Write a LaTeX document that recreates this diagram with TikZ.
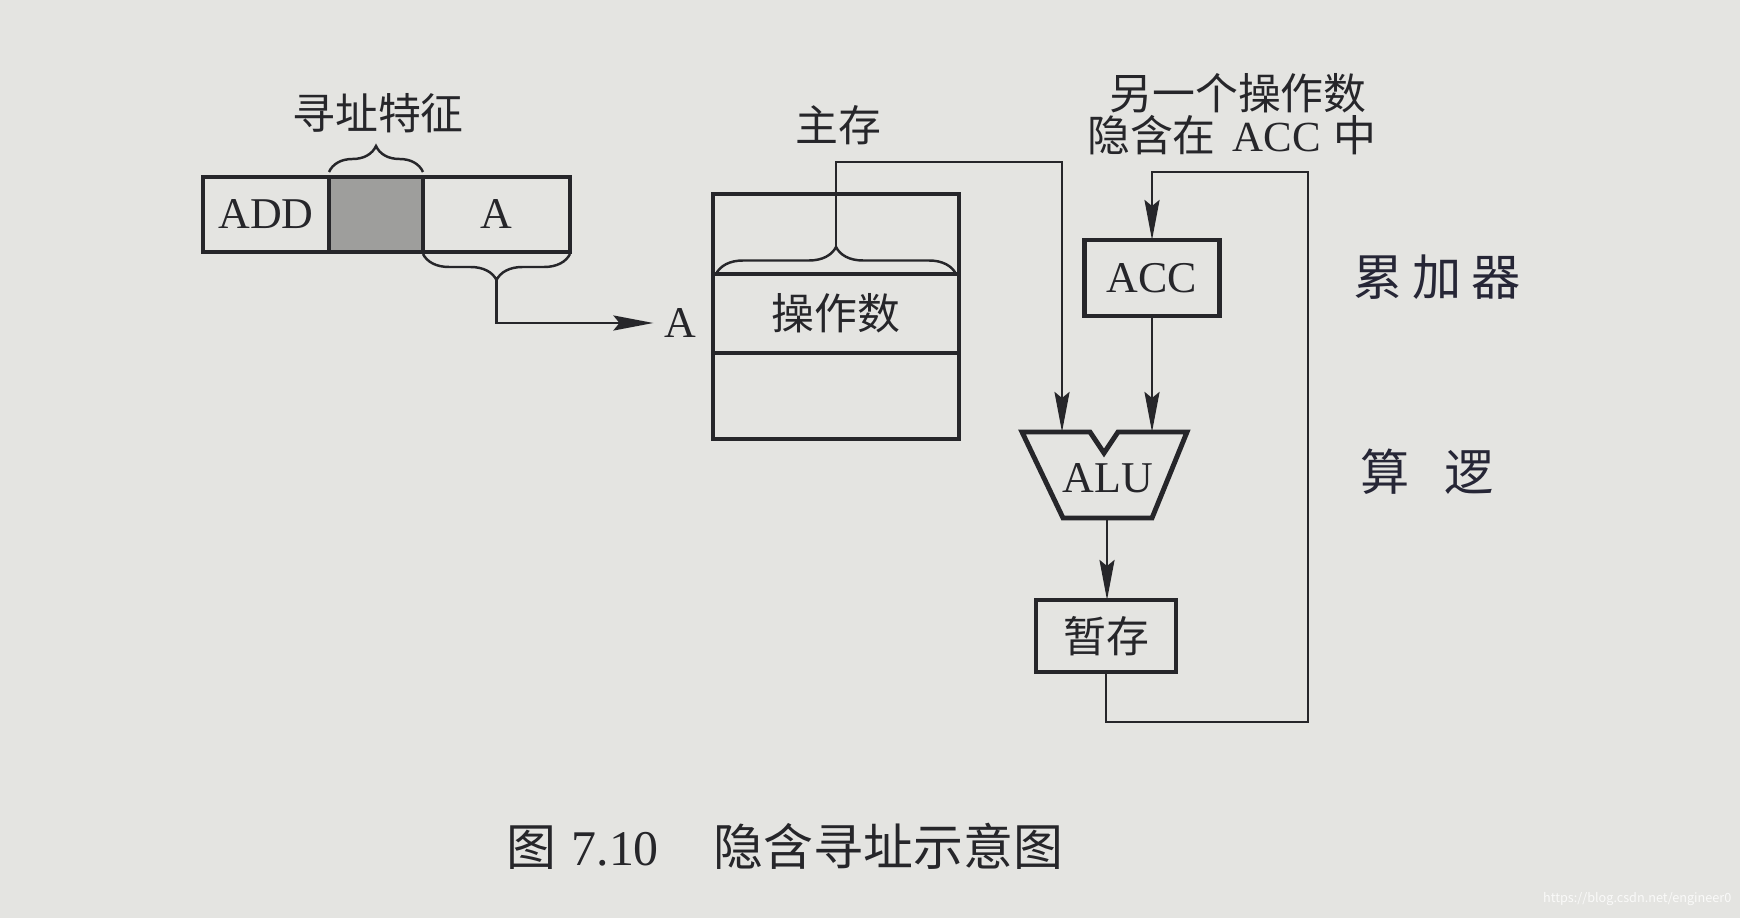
\documentclass[tikz,border=0pt]{standalone}
\usepackage{fontspec}
\setmainfont{Liberation Serif}
\newfontfamily\cjk{Noto Sans CJK SC}
\usepackage{xcolor}
\usepackage{tikz}
\usetikzlibrary{arrows.meta, positioning, decorations.pathreplacing, calc}

\definecolor{paper}{RGB}{228,228,225}
\definecolor{ink}{RGB}{38,38,42}
\definecolor{shade}{RGB}{158,158,156}
\definecolor{pen}{RGB}{38,38,54}

\begin{document}
\begin{tikzpicture}[x=0.1mm, y=-0.1mm,
        every node/.style={text=ink},
        cell/.style={rectangle, draw=ink, line width=1.4pt, outer sep=0pt, inner sep=0pt, minimum height=7.5mm, font=\fontsize{12.5}{14}\selectfont},
        memcell/.style={rectangle, draw=ink, line width=1.4pt, outer sep=0pt, inner sep=0pt, minimum width=24.6mm, font=\fontsize{12.2}{14}\selectfont\cjk},
        regbox/.style={rectangle, draw=ink, line width=1.4pt, outer sep=0pt, inner sep=0pt, font=\fontsize{12.5}{14}\selectfont},
        lbl/.style={inner sep=0pt, font=\fontsize{12.2}{14}\selectfont\cjk},
        hand/.style={inner sep=0pt, text=pen, font=\fontsize{14}{16}\selectfont\cjk},
        conn/.style={draw=ink, line width=0.8pt},
        arrowline/.style={conn, -{Stealth[length=4mm, width=1.5mm, inset=0.6mm]}},
        bracket/.style={draw=ink, line width=0.7pt, decorate, decoration={brace, amplitude=#1}}
    ]
        \path[use as bounding box, fill=paper] (0,0) rectangle (1740,918);

        \node[cell, minimum width=12.6mm] (add) at (266,214.5) {ADD};
        \node[cell, minimum width=9.4mm, fill=shade, right=0pt of add] (mode) {};
        \node[cell, minimum width=14.7mm, right=0pt of mode] (addr) {A};
        \node[lbl] (feature) at (378,113) {寻址特征};
        \draw[bracket=2.6mm] ([yshift=0.5mm]mode.north west) -- ([yshift=0.5mm]mode.north east);
        \draw[bracket=2.6mm] ([yshift=-0.2mm]addr.south east) -- ([yshift=-0.2mm]addr.south west);
        \coordinate (atip) at ([yshift=-2.8mm]addr.south);
        \node[inner sep=1mm, font=\fontsize{12.5}{14}\selectfont] (opaddr) at (680,323) {A};

        \node[memcell, minimum height=8mm] (memtop) at (836,234) {};
        \node[memcell, minimum height=7.9mm, below=0pt of memtop] (operand) {操作数};
        \node[memcell, minimum height=8.6mm, below=0pt of operand] (membot) {};
        \node[lbl] (mainmem) at (838,125) {主存};
        \draw[bracket=2.7mm] ([xshift=0.3mm]operand.north west) -- ([xshift=-0.3mm]operand.north east);
        \coordinate (memtip) at ([yshift=2.7mm]operand.north);

        \node[regbox, minimum width=13.5mm, minimum height=7.6mm] (acc) at (1152,278) {ACC};
        \draw[ink, line width=1.4pt] (1022,432) -- (1090,432) -- (1104,453) -- (1118,432) -- (1187,432) -- (1152,518) -- (1063,518) -- cycle;
        \coordinate (aluL) at (1062,432);
        \coordinate (aluout) at (1107,518);
        \node[inner sep=0pt, font=\fontsize{12.5}{14}\selectfont] (alu) at (1108,478) {ALU};
        \node[regbox, minimum width=14mm, minimum height=7.2mm, font=\fontsize{12.2}{14}\selectfont\cjk] (tmp) at (1106,636) {暂存};

        \node[lbl] (note1) at (1238,93) {另一个操作数};
        \node[lbl] (note2) at (1232,135) {隐含在\hspace{0.4em}{\rmfamily ACC}\hspace{0.3em}中};

        \draw[arrowline] (atip) |- (opaddr);
        \draw[arrowline] (memtip) -- ++(0,-85) -| (aluL);
        \draw[arrowline] (acc.south) -- (acc.south |- aluL);
        \draw[arrowline] (aluout) -- (aluout |- tmp.north);
        \draw[arrowline] (tmp.south) -- ++(0,50) -| ++(202,-550) -| (acc.north);

        \node[hand] (accnote) at (1437,277) {累\hspace{0.2em}加\hspace{0.2em}器};
        \node[hand] (alunote) at (1427,472) {算\hspace{0.7em}逻};

        \node[anchor=west, inner sep=0pt, font=\fontsize{14.2}{16}\selectfont] (caption) at (506,846) {{\cjk 图}\hspace{0.3em}7.10\hspace{1.1em}{\cjk 隐含寻址示意图}};
        \node[anchor=east, inner sep=0pt, text=white!80!paper, font=\fontsize{3.6}{4}\selectfont\cjk] (mark) at (1732,899) {https://blog.csdn.net/engineer0};
    \end{tikzpicture}
\end{document}
